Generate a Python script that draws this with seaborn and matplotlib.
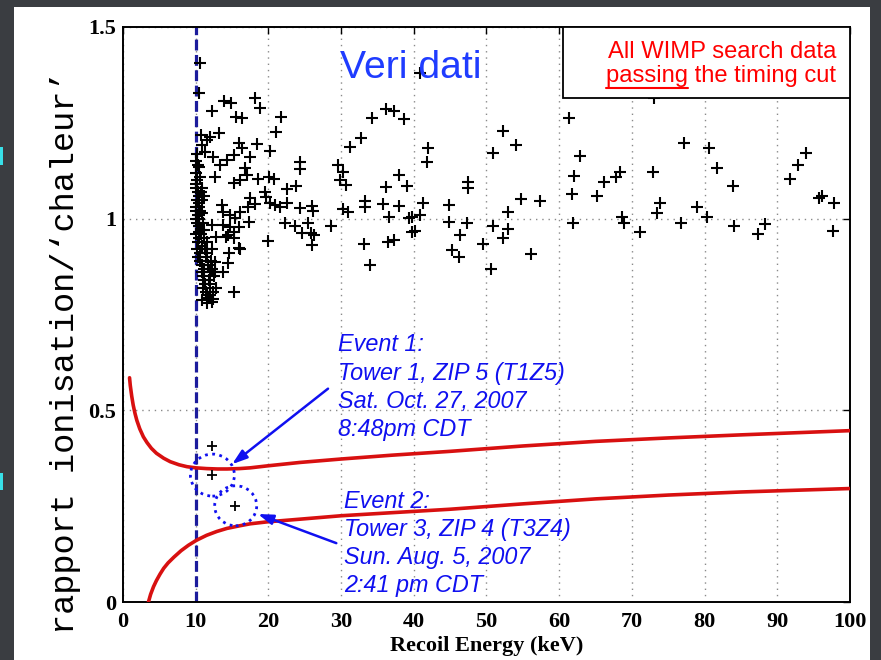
import numpy as np
import pandas as pd
import matplotlib
matplotlib.use("Agg")
import matplotlib.pyplot as plt
from matplotlib.patches import Rectangle, Ellipse
import seaborn as sns

# ---------------- data ----------------
scatter_E = [10.6, 10.4, 12.3, 13.9, 14.9, 18.2, 18.8, 15.6, 16.3, 21.7, 21.1, 13.2, 10.7, 11.5, 12.0,
             10.8, 11.3, 12.4, 13.3, 14.3, 15.2, 16.3, 15.9, 18.4, 17.5, 20.2, 16.8, 17.0, 15.2, 16.1,
             12.7, 18.6, 20.1, 20.8, 19.5, 22.5, 23.8, 24.3, 24.3, 19.7, 20.2, 20.9, 21.6, 22.5, 17.5,
             18.2, 17.2, 13.6, 13.8, 14.7, 15.4, 16.1, 15.9, 14.7, 15.2, 14.5, 17.4, 12.3, 13.8, 12.8,
             14.2, 15.2, 20.0, 14.6, 15.9, 16.1, 14.5, 13.8, 12.7, 15.2, 12.4, 11.7, 12.2, 10.8, 22.3,
             23.7, 24.6, 25.5, 25.9, 26.0, 24.3, 26.0, 26.1, 26.3, 28.6, 29.6, 30.2, 29.8, 30.7, 31.2,
             32.7, 34.2, 36.2, 37.3, 38.6, 38.0, 36.2, 39.0, 41.9, 41.8, 30.2, 30.9, 33.3, 33.3, 35.7,
             37.9, 36.6, 39.4, 39.7, 40.9, 41.3, 39.8, 40.1, 33.1, 36.5, 37.3, 34.0, 44.8, 44.8, 47.3,
             46.4, 45.2, 46.2, 47.5, 47.5, 49.5, 50.9, 50.9, 50.6, 52.3, 54.1, 54.8, 57.3, 52.9, 53.0,
             52.3, 56.1, 61.3, 62.9, 62.1, 61.7, 61.9, 65.2, 66.1, 67.8, 68.4, 68.6, 68.9, 71.1, 73.1,
             72.9, 73.8, 73.4, 76.8, 77.1, 80.6, 81.7, 83.9, 78.9, 80.3, 84.0, 87.4, 88.3, 91.7, 92.9,
             93.9, 95.8, 96.1, 97.8, 97.7, 40.9]
scatter_R = [1.405, 1.329, 1.282, 1.308, 1.303, 1.314, 1.288, 1.266, 1.262, 1.266, 1.225, 1.223, 1.218, 1.205, 1.214,
             1.192, 1.175, 1.162, 1.140, 1.153, 1.166, 1.184, 1.197, 1.195, 1.162, 1.177, 1.131, 1.114, 1.092, 1.101,
             1.110, 1.103, 1.108, 1.103, 1.070, 1.077, 1.085, 1.149, 1.129, 1.057, 1.042, 1.036, 1.031, 1.040, 1.053,
             1.038, 1.030, 1.036, 1.018, 1.010, 1.001, 1.018, 0.979, 0.979, 0.966, 0.957, 0.992, 0.984, 0.984, 0.953,
             0.953, 0.949, 0.943, 0.910, 0.923, 0.920, 0.885, 0.862, 0.888, 0.810, 0.810, 0.792, 0.783, 0.788, 0.988,
             0.982, 0.962, 0.988, 0.962, 0.931, 1.027, 1.033, 1.020, 0.958, 0.982, 1.140, 1.123, 1.101, 1.088, 1.188,
             1.210, 1.262, 1.286, 1.282, 1.259, 1.114, 1.082, 1.085, 1.185, 1.147, 1.024, 1.018, 1.047, 1.031, 1.037,
             1.033, 1.005, 1.001, 1.004, 1.010, 1.042, 0.965, 0.968, 0.933, 0.939, 0.944, 0.879, 1.036, 0.992, 0.990,
             0.957, 0.918, 0.901, 1.096, 1.081, 0.934, 1.172, 0.982, 0.869, 1.229, 1.191, 1.051, 1.047, 1.017, 0.973,
             0.949, 0.908, 1.262, 1.164, 1.111, 1.064, 0.990, 1.059, 1.096, 1.110, 1.122, 1.005, 0.990, 0.964, 1.314,
             1.121, 1.040, 1.014, 0.988, 1.197, 1.184, 1.131, 1.084, 1.030, 1.004, 0.982, 0.959, 0.986, 1.103, 1.140,
             1.172, 1.053, 1.059, 1.042, 0.968, 1.379]

# dense band just above the 10 keV threshold
band_E = [10.0, 10.2, 10.1, 10.3, 10.5, 10.2, 10.4, 10.1, 10.6, 10.3, 10.0, 10.2, 10.5, 10.7, 10.1,
          10.4, 10.3, 10.8, 10.2, 10.6, 10.0, 10.9, 10.4, 11.0, 10.3, 10.7, 10.5, 11.2, 10.6, 10.9,
          10.4, 11.3, 10.8, 11.1, 10.5, 11.5, 10.9, 11.4, 11.0, 11.7, 10.7, 11.2, 11.6, 11.9, 11.3,
          12.1, 11.0, 11.8, 12.2, 11.4, 12.5, 11.6, 12.0, 12.8, 11.2, 12.4, 11.9, 12.7, 11.5, 12.3,
          10.1, 10.3, 10.0, 10.2, 10.6, 10.4, 10.8, 11.1, 10.5, 10.9]
band_R = [1.12, 1.10, 1.08, 1.07, 1.06, 1.05, 1.04, 1.03, 1.02, 1.01, 1.00, 0.99, 0.98, 0.97, 0.96,
          0.95, 0.94, 0.93, 0.92, 0.91, 1.09, 1.05, 1.00, 0.99, 0.90, 0.96, 1.03, 0.95, 0.89, 0.93,
          0.98, 0.92, 0.88, 0.87, 1.01, 0.94, 0.86, 0.90, 0.85, 0.88, 1.07, 0.84, 0.91, 0.86, 0.83,
          0.89, 0.82, 0.84, 0.87, 0.81, 0.85, 0.80, 0.83, 0.82, 0.97, 0.79, 0.80, 0.86, 0.78, 0.92,
          1.15, 1.14, 1.02, 1.17, 1.11, 0.965, 1.08, 1.06, 1.135, 1.015]

event_E = [12.2, 12.2, 15.4]
event_R = [0.407, 0.331, 0.251]

upper_E = [0.9, 1.0, 1.2, 1.4, 1.65, 1.9, 2.3, 2.8, 3.3, 3.9, 4.6, 5.6, 6.5, 7.7, 8.8, 10.0, 11.5,
           13.0, 14.3, 16.0, 17.5, 19.8, 24.3, 30, 37, 45, 55, 65, 75, 85, 100]
upper_R = [0.585, 0.565, 0.537, 0.514, 0.492, 0.474, 0.452, 0.431, 0.416, 0.401, 0.388, 0.375, 0.366,
           0.358, 0.353, 0.350, 0.348, 0.347, 0.347, 0.348, 0.350, 0.355, 0.364, 0.373, 0.383, 0.393,
           0.407, 0.419, 0.428, 0.436, 0.447]
lower_E = [3.5, 3.8, 4.2, 4.6, 5.1, 5.6, 6.2, 7.0, 8.0, 9.0, 10.1, 11.5, 12.9, 14.3, 16.1, 17.5,
           19.8, 24.3, 30, 37, 45, 55, 65, 75, 85, 100]
lower_R = [0.0, 0.02, 0.04, 0.056, 0.073, 0.088, 0.102, 0.117, 0.134, 0.148, 0.161, 0.174, 0.184,
           0.192, 0.199, 0.204, 0.209, 0.216, 0.225, 0.233, 0.242, 0.256, 0.269, 0.279, 0.287, 0.296]

threshold_keV = 10
x_ticks = [0, 10, 20, 30, 40, 50, 60, 70, 80, 90, 100]
y_ticks = [0, 0.5, 1, 1.5]
y_ticklabels = ["0", "0.5", "1", "1.5"]

event1_lines = ["Event 1:", "Tower 1, ZIP 5 (T1Z5)", "Sat. Oct. 27, 2007", "8:48pm CDT"]
event2_lines = ["Event 2:", "Tower 3, ZIP 4 (T3Z4)", "Sun. Aug. 5, 2007", "2:41 pm CDT"]

# ---------------- figure ----------------
sns.set_style("white")
plt.rcParams['font.family'] = ['Liberation Sans', 'DejaVu Sans']

W, H = 881, 660
fig = plt.figure(figsize=(W / 100, H / 100), dpi=100)
fig.patch.set_facecolor('#3a3d41')
fig.add_artist(Rectangle((14 / W, 0), (870 - 14) / W, (H - 7) / H, transform=fig.transFigure,
                         facecolor='white', edgecolor='none', zorder=-5))
for y0, y1 in [(147, 165), (473, 490)]:
    fig.add_artist(Rectangle((0, 1 - y1 / H), 3 / W, (y1 - y0) / H, transform=fig.transFigure,
                             facecolor='#38e0e8', edgecolor='none', zorder=-4))

ax = fig.add_axes([123 / W, 58 / H, 727 / W, 575 / H])
ax.set_facecolor('white')

df_pts = pd.DataFrame({"E": scatter_E + band_E, "R": scatter_R + band_R})
df_evt = pd.DataFrame({"E": event_E, "R": event_R})
df_up = pd.DataFrame({"E": upper_E, "R": upper_R})
df_lo = pd.DataFrame({"E": lower_E, "R": lower_R})

red = '#d81010'
sns.lineplot(data=df_up, x="E", y="R", sort=False, estimator=None, color=red, lw=2.6, ax=ax, zorder=3)
sns.lineplot(data=df_lo, x="E", y="R", sort=False, estimator=None, color=red, lw=2.6, ax=ax, zorder=3)

ax.axvline(threshold_keV, color='#1c1c9c', lw=2.3, dashes=(3.4, 1.4), zorder=2)

sns.scatterplot(data=df_pts, x="E", y="R", marker='+', color='black', s=80, linewidth=1.5, ax=ax, zorder=4)
sns.scatterplot(data=df_evt, x="E", y="R", marker='+', color='black', s=60, linewidth=1.3, ax=ax, zorder=4)

blue = '#1010f0'
# dotted circles around the two events
for (cx, cy, dx, dy) in [(12.3, 0.331, 44 / 7.27, 42 / 383.3), (15.5, 0.251, 42 / 7.27, 40 / 383.3)]:
    ax.add_patch(Ellipse((cx, cy), dx, dy, fill=False, edgecolor=blue, lw=2.0,
                         linestyle=(0, (1, 1.6)), zorder=5))

# arrows
ax.annotate('', xy=(14.7, 0.355), xytext=(28.5, 0.561),
            arrowprops=dict(arrowstyle='-|>,head_length=0.9,head_width=0.3', color=blue, lw=1.8), zorder=6)
ax.annotate('', xy=(18.2, 0.232), xytext=(29.7, 0.151),
            arrowprops=dict(arrowstyle='-|>,head_length=0.9,head_width=0.3', color=blue, lw=1.8), zorder=6)

# event texts
for lines, x0, y0 in [(event1_lines, 29.6, 0.6535), (event2_lines, 30.4, 0.246)]:
    for i, s in enumerate(lines):
        ax.annotate(s, xy=(x0, y0), xytext=(0, -i * 20.2), textcoords='offset points',
                    ha='left', va='baseline', color=blue, fontsize=16.8, fontstyle='italic', zorder=7)

ax.text(29.85, 1.367, "Veri dati", color='#1f3cff', fontsize=28.2, ha='left', va='baseline', zorder=7)

# legend-like box
ax.add_patch(Rectangle((0.605, 0.8765), 0.395, 0.1235, transform=ax.transAxes,
                       facecolor='white', edgecolor='black', lw=1.3, zorder=8))
ax.text(0.9807, 0.9456, "All WIMP search data", transform=ax.transAxes, ha='right', va='baseline',
        color='#ff0000', fontsize=17.1, zorder=9)
t2 = ax.text(0.9807, 0.9049, "passing the timing cut", transform=ax.transAxes, ha='right', va='baseline',
             color='#ff0000', fontsize=17.1, zorder=9)

# axes styling
ax.set_xlim(0, 100)
ax.set_ylim(0, 1.5)
ax.set_xticks(x_ticks)
ax.set_yticks(y_ticks)
ax.set_yticklabels(y_ticklabels)
ax.grid(True, linestyle=(0, (1, 3.5)), color='#8a8a8a', lw=1.0)
ax.set_axisbelow(True)
ax.tick_params(direction='in', length=5, width=1.0, top=True, right=True, pad=5,
               labelsize=16, colors='black')
ax.tick_params(axis='x', pad=7)
for lbl in ax.get_xticklabels() + ax.get_yticklabels():
    lbl.set_fontfamily('Liberation Serif')
    lbl.set_fontweight('bold')
for sp in ax.spines.values():
    sp.set_visible(True)
    sp.set_color('black')
    sp.set_linewidth(1.4)

ax.set_xlabel("Recoil Energy (keV)", fontfamily='Liberation Serif', fontweight='bold',
              fontsize=16, labelpad=3, color='black')
ax.set_ylabel("")

fig.text(66 / W, 1 - 352 / H, "rapport ionisation/\u2018chaleur\u2019", rotation=90, ha='center', va='center',
         fontfamily=['Liberation Mono', 'DejaVu Sans Mono'], fontsize=24.2, color='black')

# underline "passing"
fig.canvas.draw()
r = fig.canvas.get_renderer()
bb = t2.get_window_extent(renderer=r)
tmp = ax.text(0, 0, "passing", fontsize=17.1)
wbb = tmp.get_window_extent(renderer=r)
tmp.remove()
inv = fig.transFigure.inverted()
(x0f, _), (x1f, _) = inv.transform([(bb.x0, 0), (bb.x0 + wbb.width, 0)])
yline = 1 - 87.5 / H
fig.add_artist(plt.Line2D([x0f, x1f], [yline, yline], color='#ff0000', lw=1.5, zorder=20))

fig.savefig("out.png", dpi=100, facecolor=fig.get_facecolor())
